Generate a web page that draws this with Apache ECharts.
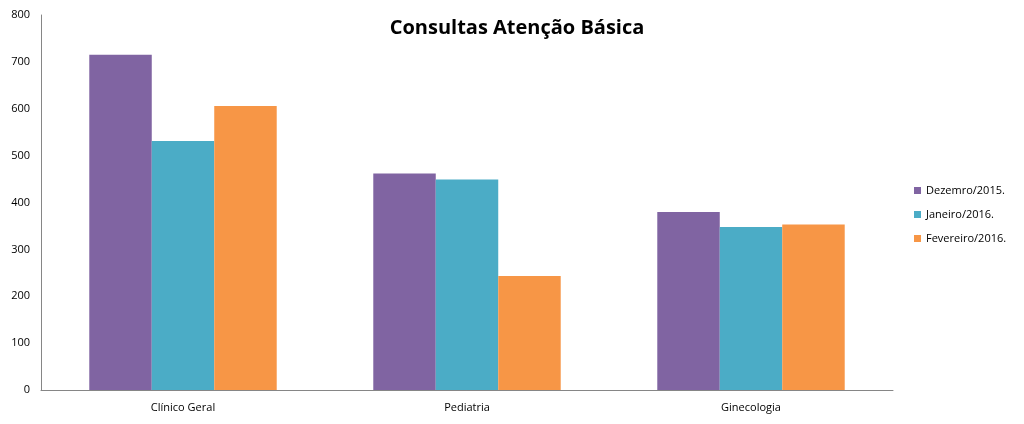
<!DOCTYPE html>
<html><head><meta charset="utf-8">
<script src="https://cdn.jsdelivr.net/npm/echarts@6/dist/echarts.min.js"></script>
<style>html,body{margin:0;padding:0;background:#fff}#c{width:1024px;height:424px}</style>
</head><body><div id="c"></div>
<script>
const categories = ['Clínico Geral', 'Pediatria', 'Ginecologia'];
const seriesNames = ['Dezemro/2015.', 'Janeiro/2016.', 'Fevereiro/2016.'];
const dez2015 = [715, 462, 380];
const jan2016 = [531, 449, 348];
const fev2016 = [606, 243, 353];
const colors = ['#8064A2', '#4BACC6', '#F79646'];
const font = 'Open Sans';
const chart = echarts.init(document.getElementById('c'));
chart.setOption({
  animation: false,
  color: colors,
  title: { text: 'Consultas Atenção Básica', left: 512, top: 13, textAlign: 'center',
    textStyle: { fontFamily: font, fontSize: 20, fontWeight: 'bold', color: '#000' } },
  legend: { orient: 'vertical', left: 909, top: 180, itemWidth: 7, itemHeight: 7, itemGap: 13,
    icon: 'rect', textStyle: { fontFamily: font, fontSize: 11, color: '#000' }, data: seriesNames },
  grid: { left: 41, right: 131, top: 15, bottom: 34 },
  xAxis: { type: 'category', data: categories,
    axisLine: { lineStyle: { color: '#868686' } }, axisTick: { show: false },
    axisLabel: { fontFamily: font, fontSize: 11, color: '#000', margin: 12 } },
  yAxis: { type: 'value', min: 0, max: 800, interval: 100,
    axisLine: { show: true, lineStyle: { color: '#868686' } }, axisTick: { show: false },
    splitLine: { show: false },
    axisLabel: { fontFamily: font, fontSize: 11, color: '#000', margin: 11 } },
  series: [
    { name: seriesNames[0], type: 'bar', data: dez2015, barGap: '0%', barCategoryGap: '34%' },
    { name: seriesNames[1], type: 'bar', data: jan2016, barGap: '0%', barCategoryGap: '34%' },
    { name: seriesNames[2], type: 'bar', data: fev2016, barGap: '0%', barCategoryGap: '34%' }
  ]
});
</script></body></html>
